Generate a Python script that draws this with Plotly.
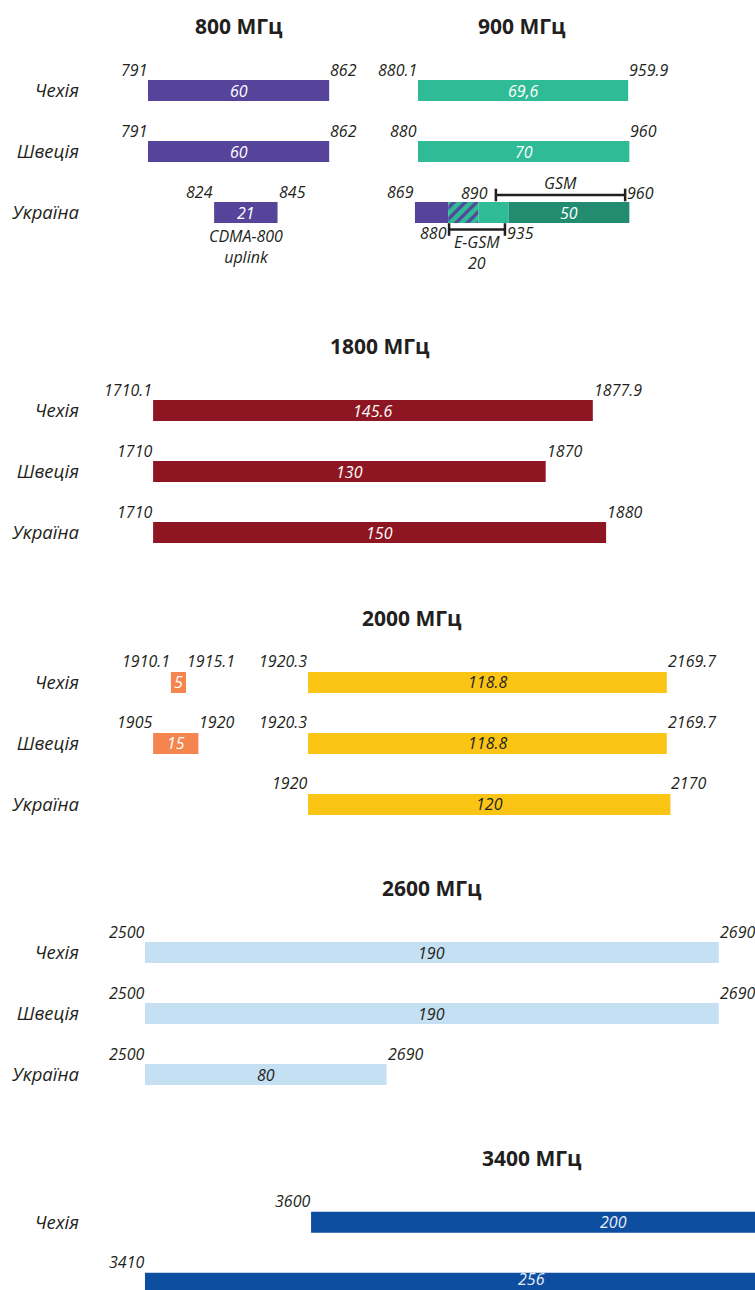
import plotly.graph_objects as go

W, H = 755, 1290
PX_PER_U = 3.02            # schematic scale: pixels per MHz of bandwidth
XMAX = W / PX_PER_U
ROW_PX = 61                # pixels between rows
BAR_W = 21 / ROW_PX

countries = ["Чехія", "Швеція", "Україна"]

# ---------------- data ----------------
# 800 MHz
b800_start = ["791", "791", "824"]
b800_end = ["862", "862", "845"]
b800_width = [60, 60, 21]
b800_text = ["60", "60", "21"]
b800_offset = [49.0, 49.0, 70.9]
ua800_note = ["CDMA-800", "uplink"]

# 900 MHz (Czechia, Sweden)
b900_start = ["880.1", "880"]
b900_end = ["959.9", "960"]
b900_width = [69.6, 70]
b900_text = ["69,6", "70"]
b900_offset = [138.4, 138.4]
# 900 MHz Ukraine: CDMA only / CDMA+E-GSM overlap / E-GSM / GSM
ua900_seg_width = [11, 10, 10, 40]
ua900_seg_text = ["", "", "", "50"]
ua900_offset = 137.4
ua900_start = "869"
ua900_gsm = [164.2, 207.0]
ua900_gsm_labels = ["890", "960"]
ua900_gsm_name = "GSM"
ua900_egsm = [148.7, 167.2]
ua900_egsm_labels = ["880", "935"]
ua900_egsm_name = ["E-GSM", "20"]

# 1800 MHz
b1800_start = ["1710.1", "1710", "1710"]
b1800_end = ["1877.9", "1870", "1880"]
b1800_width = [145.6, 130, 150]
b1800_text = ["145.6", "130", "150"]
b1800_offset = [50.7, 50.7, 50.7]

# 2000 MHz, TDD part
b2000a_rows = [0, 1]
b2000a_start = ["1910.1", "1905"]
b2000a_end = ["1915.1", "1920"]
b2000a_width = [5, 15]
b2000a_text = ["5", "15"]
b2000a_offset = [56.6, 50.7]
# 2000 MHz, FDD part
b2000b_start = ["1920.3", "1920.3", "1920"]
b2000b_end = ["2169.7", "2169.7", "2170"]
b2000b_width = [118.8, 118.8, 120]
b2000b_text = ["118.8", "118.8", "120"]
b2000b_offset = [102.0, 102.0, 102.0]

# 2600 MHz
b2600_start = ["2500", "2500", "2500"]
b2600_end = ["2690", "2690", "2690"]
b2600_width = [190, 190, 80]
b2600_text = ["190", "190", "80"]
b2600_offset = [48.0, 48.0, 48.0]

# 3400 MHz
b3400_rows = [0, 1]
b3400_start = ["3600", "3410"]
b3400_width = [200, 256]
b3400_text = ["200", "256"]
b3400_offset = [103.0, 48.0]

# ---------------- styles ----------------
INK = "#231f20"
PURPLE = "#56449b"
GREEN = "#2fbb96"
DGREEN = "#228c70"
RED = "#8e1622"
ORANGE = "#f5854f"
YELLOW = "#fbc516"
LBLUE = "#c4e0f2"
BLUE = "#0e4ea1"
FONT = "Open Sans"

# panel geometry: first row centre, top, bottom (pixels)
panels = [
    dict(c0=90.5, top=0, bottom=285, rows=3),
    dict(c0=410.5, top=315, bottom=575, rows=3),
    dict(c0=682.5, top=585, bottom=845, rows=3),
    dict(c0=952.5, top=855, bottom=1115, rows=3),
    dict(c0=1222.3, top=1125, bottom=H, rows=2),
]

fig = go.Figure()
annotations = []


def ax(i):
    return ("x" if i == 0 else f"x{i+1}"), ("y" if i == 0 else f"y{i+1}")


def note(i, x, y, text, size=16, color=INK, xanchor="center", italic=True, bold=False,
         xshift=0, yshift=0):
    xr, yr = ax(i)
    annotations.append(dict(
        x=x, y=y, xref=xr, yref=yr, text=text, showarrow=False,
        xanchor=xanchor, yanchor="middle", xshift=xshift, yshift=yshift,
        font=dict(family=FONT, size=size, color=color,
                  style="italic" if italic else "normal",
                  weight="bold" if bold else "normal")))


def add_bar(i, row, offset, width, color, text, tcolor, start=None, end=None, pattern=None):
    xr, yr = ax(i)
    marker = dict(color=color, line=dict(width=0))
    if pattern:
        marker["pattern"] = pattern
    fig.add_trace(go.Bar(orientation="h", base=[offset], x=[width], y=[row],
                         width=BAR_W, marker=marker, xaxis=xr, yaxis=yr,
                         hoverinfo="skip", showlegend=False, cliponaxis=True))
    if text:
        # keep the text inside the canvas when the row sits on the bottom edge
        row_px = panels[i]["c0"] + row * ROW_PX
        ys = max(0, row_px + 11 - H)
        note(i, offset + width / 2, row, text, size=16, color=tcolor, yshift=ys)
    lab_dy = -21 / ROW_PX
    if start:
        note(i, offset, row + lab_dy, start, xanchor="right", xshift=1)
    if end:
        note(i, offset + width, row + lab_dy, end, xanchor="left", xshift=-1)


def bracket(i, row, xs, dy):
    xr, yr = ax(i)
    fig.add_trace(go.Scatter(x=xs, y=[row + dy] * len(xs), mode="lines+markers",
                             line=dict(color=INK, width=2.5),
                             marker=dict(symbol="line-ns", size=9,
                                         line=dict(color=INK, width=2.5)),
                             xaxis=xr, yaxis=yr, hoverinfo="skip", showlegend=False))


# ---- panel 0 : 800 & 900
for r in range(3):
    add_bar(0, r, b800_offset[r], b800_width[r], PURPLE, b800_text[r], "white",
            b800_start[r], b800_end[r])
for r in range(2):
    add_bar(0, r, b900_offset[r], b900_width[r], GREEN, b900_text[r], "white",
            b900_start[r], b900_end[r])
ua_row = 2
note(0, b800_offset[2] + b800_width[2] / 2, ua_row + 34 / ROW_PX, "<br>".join(ua800_note))

seg_colors = [PURPLE, GREEN, GREEN, DGREEN]
x0 = ua900_offset
for k, wdt in enumerate(ua900_seg_width):
    pat = None
    if k == 1:
        pat = dict(shape="/", fgcolor=PURPLE, bgcolor=GREEN, size=8, solidity=0.4,
                   fillmode="replace")
    add_bar(0, ua_row, x0, wdt, seg_colors[k], ua900_seg_text[k], "white",
            ua900_start if k == 0 else None, None, pattern=pat)
    x0 += wdt

gsm_dy = -17.5 / ROW_PX
egsm_dy = 17 / ROW_PX
bracket(0, ua_row, ua900_gsm, gsm_dy)
bracket(0, ua_row, ua900_egsm, egsm_dy)
note(0, ua900_gsm[0] - 2, ua_row - 19.5 / ROW_PX, ua900_gsm_labels[0], xanchor="right")
note(0, ua900_gsm[1], ua_row - 19.5 / ROW_PX, ua900_gsm_labels[1], xanchor="left")
note(0, sum(ua900_gsm) / 2, ua_row - 29.5 / ROW_PX, ua900_gsm_name)
note(0, ua900_egsm[0], ua_row + 20 / ROW_PX, ua900_egsm_labels[0], xanchor="right")
note(0, ua900_egsm[1], ua_row + 20 / ROW_PX, ua900_egsm_labels[1], xanchor="left")
note(0, sum(ua900_egsm) / 2, ua_row + 40 / ROW_PX, "<br>".join(ua900_egsm_name))

# ---- panel 1 : 1800
for r in range(3):
    add_bar(1, r, b1800_offset[r], b1800_width[r], RED, b1800_text[r], "white",
            b1800_start[r], b1800_end[r])
# ---- panel 2 : 2000
for k, r in enumerate(b2000a_rows):
    add_bar(2, r, b2000a_offset[k], b2000a_width[k], ORANGE, b2000a_text[k], "white",
            b2000a_start[k], b2000a_end[k])
for r in range(3):
    add_bar(2, r, b2000b_offset[r], b2000b_width[r], YELLOW, b2000b_text[r], INK,
            b2000b_start[r], b2000b_end[r])
# ---- panel 3 : 2600
for r in range(3):
    add_bar(3, r, b2600_offset[r], b2600_width[r], LBLUE, b2600_text[r], INK,
            b2600_start[r], b2600_end[r])
# ---- panel 4 : 3400
for k, r in enumerate(b3400_rows):
    add_bar(4, r, b3400_offset[k], b3400_width[k], BLUE, b3400_text[k], "#e6edf7",
            b3400_start[k], None)

# ---- titles, centred over each band's extent
bands = [
    (0, "800 МГц", b800_offset, b800_width),
    (0, "900 МГц", b900_offset + [ua900_offset], b900_width + [sum(ua900_seg_width)]),
    (1, "1800 МГц", b1800_offset, b1800_width),
    (2, "2000 МГц", b2000a_offset + b2000b_offset, b2000a_width + b2000b_width),
    (3, "2600 МГц", b2600_offset, b2600_width),
    (4, "3400 МГц", b3400_offset, b3400_width),
]
for i, title, offs, wids in bands:
    lo = min(offs)
    hi = max(o + w for o, w in zip(offs, wids))
    note(i, (lo + hi) / 2, -1.05, title, size=21, italic=False, bold=True)

# ---- axes
layout = dict(width=W, height=H, margin=dict(l=0, r=0, t=0, b=0),
              paper_bgcolor="white", plot_bgcolor="white",
              barmode="overlay", showlegend=False, annotations=annotations)
for i, p in enumerate(panels):
    xn = "xaxis" if i == 0 else f"xaxis{i+1}"
    yn = "yaxis" if i == 0 else f"yaxis{i+1}"
    yr = "y" if i == 0 else f"y{i+1}"
    layout[xn] = dict(domain=[0, 1], range=[0, XMAX], visible=False, anchor=yr,
                      fixedrange=True)
    layout[yn] = dict(
        domain=[1 - p["bottom"] / H, 1 - p["top"] / H],
        range=[(p["bottom"] - p["c0"]) / ROW_PX, (p["top"] - p["c0"]) / ROW_PX],
        anchor="free", position=79 / W,
        tickvals=list(range(p["rows"])), ticktext=countries[:p["rows"]],
        tickfont=dict(family=FONT, size=18.5, color=INK, style="italic"),
        showgrid=False, zeroline=False, showline=False, ticks="",
        fixedrange=True)
fig.update_layout(**layout)

fig.write_html("out.html", config=dict(displayModeBar=False),
               post_script="document.body.style.margin='0px';document.body.style.overflow='hidden';")
